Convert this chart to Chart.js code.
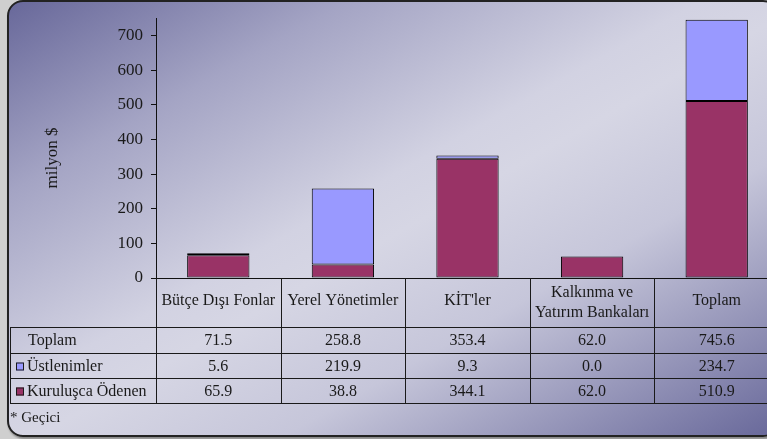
<!DOCTYPE html>
<html>
<head>
<meta charset="utf-8">
<script src="https://cdn.jsdelivr.net/npm/chart.js@4/dist/chart.umd.min.js"></script>
<style>
  html, body { margin: 0; padding: 0; }
  body { width: 767px; height: 439px; background: #cfcfcf; position: relative; overflow: hidden; }
  .frame {
    position: absolute; left: 7px; top: 0px; width: 768px; height: 433px;
    border: 2px solid #222; border-radius: 16px; overflow: hidden;
    background: linear-gradient(to bottom right, #68689a 0%, #a4a4c4 22%, #d2d2e2 45%, #d6d6e4 52%, #c6c6da 68%, #68689a 100%);
    box-shadow: 1px 2px 2px rgba(0,0,0,0.35);
  }
  #chart { position: absolute; left: -9px; top: -2px; }
</style>
</head>
<body>
<div class="frame">
  <canvas id="chart" width="800" height="439"></canvas>
</div>
<script>
// data
const categories = ['Bütçe Dışı Fonlar', 'Yerel Yönetimler', "KİT'ler", ['Kalkınma ve', 'Yatırım Bankaları'], 'Toplam'];
const kurulusca = [65.9, 38.8, 344.1, 62.0, 510.9];
const ustlenimler = [5.6, 219.9, 9.3, 0.0, 234.7];
const toplam = [71.5, 258.8, 353.4, 62.0, 745.6];
const yTicks = [0, 100, 200, 300, 400, 500, 600, 700];

const FONT = '"Liberation Serif", serif';
const MAROON = '#993366';
const LILAC = '#9999ff';

// rows of the data table under the plot
const rows = [
  { label: 'Toplam', values: toplam, key: null },
  { label: 'Üstlenimler', values: ustlenimler, key: LILAC },
  { label: 'Kuruluşca Ödenen', values: kurulusca, key: MAROON },
];

const tablePlugin = {
  id: 'dataTable',
  afterDraw(chart) {
    const ctx = chart.ctx;
    const x = chart.scales.x;
    const top = chart.chartArea.bottom;   // x axis line
    const rowTops = [327, 353, 378, 403];
    const leftX = 10;
    const half = (x.getPixelForValue(1) - x.getPixelForValue(0)) / 2;
    const right = chart.width;

    ctx.save();
    ctx.strokeStyle = '#1a1a1a';
    ctx.lineWidth = 1;

    // horizontal lines
    rowTops.forEach(y => {
      ctx.beginPath();
      ctx.moveTo(leftX, y + 0.5);
      ctx.lineTo(right, y + 0.5);
      ctx.stroke();
    });
    // left border
    ctx.beginPath();
    ctx.moveTo(leftX + 0.5, rowTops[0]);
    ctx.lineTo(leftX + 0.5, rowTops[3]);
    ctx.stroke();
    // column separators
    for (let i = 0; i <= categories.length; i++) {
      const cx = Math.round(x.getPixelForValue(i) - half) + 0.5;
      ctx.beginPath();
      ctx.moveTo(cx, top);
      ctx.lineTo(cx, rowTops[3]);
      ctx.stroke();
    }

    ctx.fillStyle = '#1a1a1a';
    ctx.font = '16px ' + FONT;
    ctx.textAlign = 'center';
    ctx.textBaseline = 'middle';

    // header (category names)
    categories.forEach((c, i) => {
      const cx = x.getPixelForValue(i);
      if (Array.isArray(c)) {
        ctx.fillText(c[0], cx, top + 15);
        ctx.fillText(c[1], cx, top + 35);
      } else {
        ctx.fillText(c, cx, top + 23);
      }
    });

    // value rows
    rows.forEach((r, ri) => {
      const yMid = (rowTops[ri] + rowTops[ri + 1]) / 2 + 1;
      r.values.forEach((v, i) => {
        ctx.textAlign = 'center';
        ctx.fillText(v.toFixed(1), x.getPixelForValue(i), yMid);
      });
      ctx.textAlign = 'left';
      if (r.key) {
        ctx.fillStyle = r.key;
        ctx.fillRect(leftX + 6, yMid - 4, 8, 8);
        ctx.strokeRect(leftX + 6.5, yMid - 3.5, 7, 7);
        ctx.fillStyle = '#1a1a1a';
        ctx.fillText(r.label, leftX + 17, yMid);
      } else {
        ctx.fillText(r.label, leftX + 18, yMid);
      }
    });

    // footnote
    ctx.font = '15px ' + FONT;
    ctx.textAlign = 'left';
    ctx.fillText('* Geçici', 10, 418);

    // y axis title
    ctx.font = '17px ' + FONT;
    ctx.translate(53, 158);
    ctx.rotate(-Math.PI / 2);
    ctx.textAlign = 'center';
    ctx.fillText('milyon $', 0, 0);
    ctx.restore();
  }
};

new Chart(document.getElementById('chart'), {
  type: 'bar',
  data: {
    labels: categories,
    datasets: [
      {
        label: 'Kuruluşca Ödenen',
        data: kurulusca,
        backgroundColor: MAROON,
        borderColor: '#000',
        borderWidth: 1,
        borderSkipped: false,
        barPercentage: 1,
        categoryPercentage: 0.5,
      },
      {
        label: 'Üstlenimler',
        data: ustlenimler,
        backgroundColor: LILAC,
        borderColor: '#000',
        borderWidth: 1,
        borderSkipped: false,
        barPercentage: 1,
        categoryPercentage: 0.5,
      }
    ]
  },
  options: {
    responsive: false,
    animation: false,
    layout: { padding: { left: 0, top: 18, right: 21, bottom: 161 } },
    plugins: {
      legend: { display: false },
      tooltip: { enabled: false },
    },
    scales: {
      x: {
        stacked: true,
        grid: { display: false },
        border: { display: true, color: '#111', width: 1 },
        ticks: { display: false },
        afterFit: s => { s.height = 0; },
      },
      y: {
        stacked: true,
        min: 0,
        max: 750,
        afterBuildTicks: s => { s.ticks = yTicks.map(v => ({ value: v })); },
        ticks: {
          color: '#1a1a1a',
          padding: 8,
          font: { family: FONT, size: 17 },
        },
        grid: { drawOnChartArea: false, drawTicks: true, tickLength: 5, color: '#111' },
        border: { display: true, color: '#111', width: 1 },
        afterFit: s => { s.width = 156; },
      }
    }
  },
  plugins: [tablePlugin]
});
</script>
</body>
</html>
